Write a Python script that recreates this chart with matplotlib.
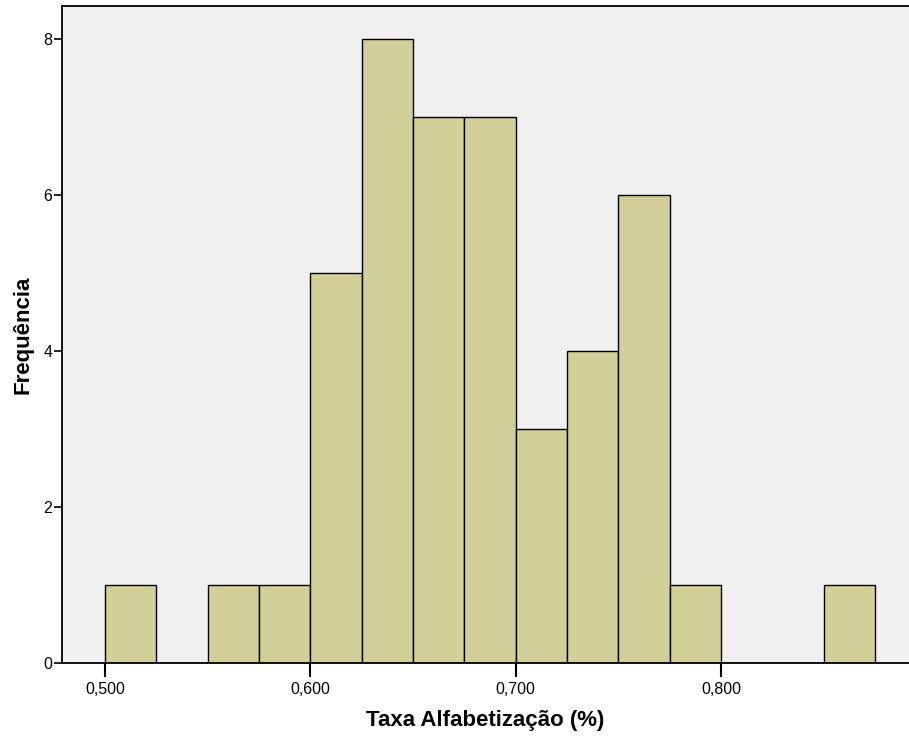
import matplotlib.pyplot as plt
from matplotlib.ticker import FuncFormatter

plt.rcParams['font.family'] = ['Liberation Sans', 'DejaVu Sans']

# histogram bins (left edges, width 0.025) and counts
bin_left = [0.500, 0.525, 0.550, 0.575, 0.600, 0.625, 0.650, 0.675,
            0.700, 0.725, 0.750, 0.775, 0.800, 0.825, 0.850]
counts = [1, 0, 1, 1, 5, 8, 7, 7, 3, 4, 6, 1, 0, 0, 1]
bin_width = 0.025
xticks = [0.5, 0.6, 0.7, 0.8]
yticks = [0, 2, 4, 6, 8]

fig = plt.figure(figsize=(9.09, 7.40), dpi=100)
ax = fig.add_axes([0.0682, 0.104, 0.9318, 0.888])
ax.set_facecolor('#f0f0f0')

ax.bar(bin_left, counts, width=bin_width, align='edge',
       color='#d3cf98', edgecolor='black', linewidth=1.0, zorder=2)

ax.set_xlim(0.47906, 0.89156)
ax.set_ylim(0, 8.423)
ax.set_xticks(xticks)
ax.set_yticks(yticks)
ax.xaxis.set_major_formatter(FuncFormatter(lambda v, p: f"{v:.3f}".replace('.', ',')))
ax.tick_params(axis='x', length=10, width=1.5, labelsize=11.5, pad=4)
ax.tick_params(axis='y', length=6, width=1.2, labelsize=11.5, pad=1)

for s in ['left', 'bottom', 'top']:
    ax.spines[s].set_linewidth(1.3)
ax.spines['right'].set_visible(False)

ax.set_xlabel('Taxa Alfabetização (%)', fontsize=16, fontweight='bold', labelpad=9)
ax.set_ylabel('Frequência', fontsize=16, fontweight='bold', labelpad=7)

fig.savefig('out.png', dpi=100)
